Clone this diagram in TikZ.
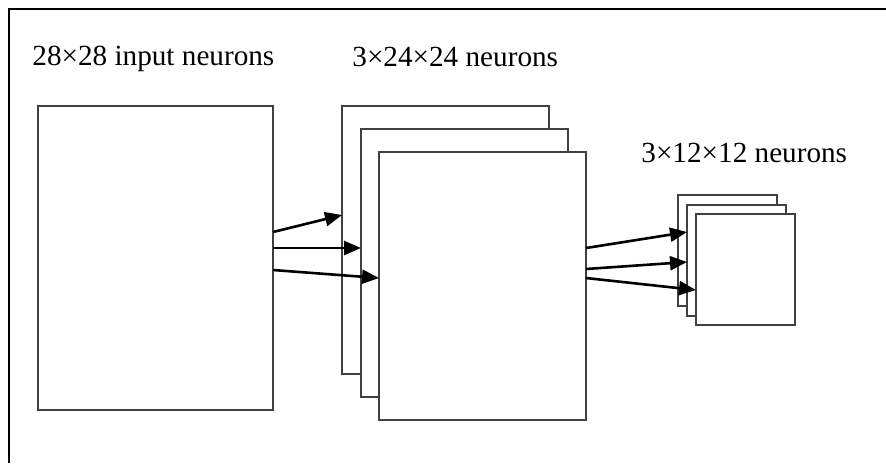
\documentclass[tikz,border=0pt]{standalone}
\usepackage{fontspec}
\setmainfont{Liberation Serif}
\usetikzlibrary{arrows.meta}
\definecolor{cedge}{HTML}{404040}

\tikzset{
  layer/.style={draw=cedge, fill=white, line width=0.9pt, inner sep=0pt, outer sep=0pt},
  conv/.style={layer, minimum width=103.5pt, minimum height=134pt},
  pool/.style={layer, minimum width=49.5pt, minimum height=55.5pt},
  link/.style={line width=1.3pt, -{Triangle[length=8.5pt,width=7pt]}},
  caption/.style={anchor=base west, inner sep=0pt, font=\fontsize{14.6}{17}\selectfont}
}

\begin{document}
\begin{tikzpicture}[x=0.5pt, y=-0.5pt]
  \useasboundingbox (0,0) rectangle (886,463);
  % outer frame, cut by the page
  \draw[line width=1.3pt] (9,463) -- (9,9) -- (886,9);
  % input layer
  \node[layer, minimum width=117.5pt, minimum height=152pt] (input) at (155.5,258) {};
  \node[caption] (inlabel) at (32,65) {28×28 input neurons};
  % convolutional feature maps
  \node[conv] (cback) at (445.5,240) {};
  \node[conv] (cmid) at (464.5,263) {};
  \node[conv] (cfront) at (482.5,286) {};
  \node[caption] (convlabel) at (352,66) {3×24×24 neurons};
  % pooled maps
  \node[pool] (pback) at (727.5,250.5) {};
  \node[pool] (pmid) at (736.5,260.5) {};
  \node[pool] (pfront) at (745.5,269.5) {};
  \node[caption] (poollabel) at (641,162) {3×12×12 neurons};
  % input -> feature maps
  \draw[link] ([yshift=13pt]input.east) -- ([yshift=12.5pt]cback.west);
  \draw[link] ([yshift=5pt]input.east) -- ([yshift=7.5pt]cmid.west);
  \draw[link] ([yshift=-6pt]input.east) -- ([yshift=4pt]cfront.west);
  % feature maps -> pooled maps
  \draw[link] ([yshift=19pt]cfront.east) -- ([yshift=14.25pt]pmid.west);
  \draw[link] ([yshift=8.5pt]cfront.east) -- ([yshift=-0.75pt]pmid.west);
  \draw[link] ([yshift=4pt]cfront.east) -- ([yshift=-10.25pt]pfront.west);
\end{tikzpicture}
\end{document}
